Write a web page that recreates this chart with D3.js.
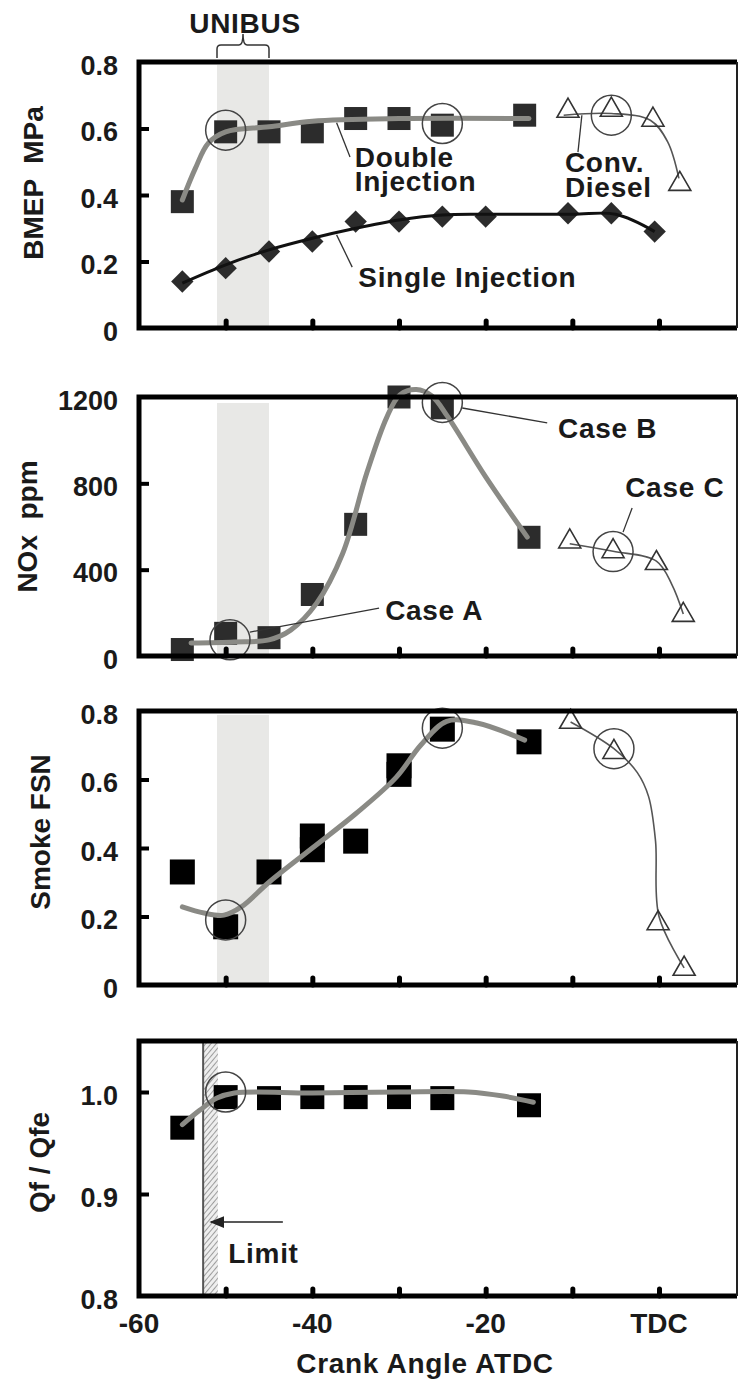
<!DOCTYPE html>
<html>
<head>
<meta charset="utf-8">
<script src="https://cdn.jsdelivr.net/npm/d3@7"></script>
<style>
  body { margin: 0; background: #fff; }
  text { font-family: "Liberation Sans", Arial, sans-serif; font-weight: bold; font-size: 28px; fill: #1a1a1a; white-space: pre; }
  .tick text { font-size: 27px; }
  .note { letter-spacing: 0.7px; }
</style>
</head>
<body>
<script>
// ---- data (crank angle ATDC, value) ----
const xTicks = [-50, -40, -30, -20, -10, 0];
const xTickLabels = [[-60, "-60"], [-40, "-40"], [-20, "-20"], [0, "TDC"]];
const unibusBand = [-51, -45];
const limitBand = [-52.6, -50.9];

const bmepTickLabels = ["0", "0.2", "0.4", "0.6", "0.8"];
const bmepDouble = [[-55, 0.38], [-50, 0.59], [-45, 0.59], [-40, 0.59], [-35, 0.63], [-30, 0.63], [-25, 0.61], [-15.5, 0.64]];
const bmepDoubleFit = [[-55, 0.385], [-53.5, 0.48], [-52, 0.556], [-50, 0.59], [-45, 0.605], [-40, 0.622], [-30, 0.63], [-15, 0.63]];
const bmepSingle = [[-55, 0.14], [-50, 0.18], [-45, 0.23], [-40, 0.26], [-35, 0.32], [-30, 0.32], [-25, 0.335], [-20, 0.335], [-10.5, 0.345], [-5.5, 0.345], [-0.5, 0.29]];
const bmepSingleFit = [[-55, 0.135], [-50, 0.19], [-45, 0.235], [-40, 0.27], [-35, 0.3], [-30, 0.325], [-25, 0.34], [-20, 0.342], [-10, 0.342], [-5, 0.342], [-0.5, 0.29]];
const bmepConv = [[-10.5, 0.653], [-5.5, 0.656], [-0.7, 0.626], [2.4, 0.433]];
const bmepConvFit = [[-11, 0.64], [-5.5, 0.645], [-1, 0.625], [1, 0.56], [2.3, 0.45]];
const bmepCircles = [[-50, 0.595], [-25, 0.615], [-5.5, 0.64]];

const noxTickLabels = ["0", "400", "800", "1200"];
const noxDouble = [[-55, 30], [-50, 105], [-45, 85], [-40, 285], [-35, 610], [-30, 1200], [-25, 1150], [-15, 550]];
const noxDoubleFit = [[-54, 60], [-49, 65], [-45, 75], [-42.5, 120], [-39.5, 245], [-36.5, 475], [-33.7, 850], [-31.4, 1107], [-29.9, 1210], [-28, 1235], [-26.2, 1205], [-24.4, 1110], [-20, 830], [-15.2, 551]];
const noxConv = [[-10.3, 530], [-5.3, 485], [-0.3, 430], [2.8, 190]];
const noxConvFit = [[-10.3, 520], [-5.3, 485], [-0.3, 440], [1.5, 330], [2.8, 195]];
const noxCircles = [[-49.5, 75], [-25, 1175], [-5.3, 484]];

const smokeTickLabels = ["0", "0.2", "0.4", "0.6", "0.8"];
const smokeDouble = [[-55, 0.33], [-50, 0.17], [-45, 0.33], [-40, 0.435], [-40, 0.395], [-35, 0.42], [-30, 0.64], [-30, 0.615], [-25, 0.747], [-15, 0.71]];
const smokeDoubleFit = [[-55, 0.228], [-52.5, 0.21], [-50.2, 0.204], [-48.2, 0.228], [-45, 0.3], [-40, 0.4], [-35, 0.5], [-30.3, 0.607], [-27.5, 0.7], [-24.5, 0.77], [-21, 0.765], [-15.5, 0.715]];
const smokeConv = [[-10.2, 0.768], [-5.2, 0.68], [-0.1, 0.18], [2.9, 0.047]];
const smokeConvFit = [[-10.2, 0.768], [-5.2, 0.69], [-2.5, 0.62], [-1.2, 0.55], [-0.4, 0.42], [0, 0.2], [2.9, 0.05]];
const smokeCircles = [[-50, 0.19], [-25, 0.75], [-5.2, 0.69]];

const qfTickLabels = ["0.8", "0.9", "1.0"];
const qfDouble = [[-55, 0.965], [-50, 0.995], [-45, 0.994], [-40, 0.995], [-35, 0.995], [-30, 0.995], [-25, 0.994], [-15, 0.987]];
const qfDoubleFit = [[-55, 0.968], [-53, 0.982], [-51, 0.994], [-49, 0.999], [-40, 0.999], [-30, 1.0], [-22, 1.0], [-18, 0.996], [-14.5, 0.99]];
const qfCircles = [[-50, 1.0]];

// ---- layout ----
const width = 740, height = 1385;
const svg = d3.select("body").append("svg").attr("width", width).attr("height", height);

const defs = svg.append("defs");
const hatch = defs.append("pattern").attr("id", "hatch").attr("patternUnits", "userSpaceOnUse")
  .attr("width", 4).attr("height", 4).attr("patternTransform", "rotate(40)");
hatch.append("rect").attr("width", 4).attr("height", 4).attr("fill", "#eeeeee");
hatch.append("line").attr("x1", 0).attr("y1", 0).attr("x2", 0).attr("y2", 4).attr("stroke", "#7a7a7a").attr("stroke-width", 1.4);

const x = d3.scaleLinear().domain([-60, 9]).range([139, 737]);
const left = x(-60), right = x(9);

const gray = "#8a8a85", dark = "#2c2c2c";
const fitLine = d3.line().curve(d3.curveCatmullRom.alpha(0.5));

function panel(p) {
  const y = d3.scaleLinear().domain(p.domain).range(p.range);
  const g = svg.append("g");
  const [bot, top] = p.range;
  const pt = d => [x(d[0]), y(d[1])];

  if (p.band) {
    g.append("rect")
      .attr("x", x(p.band[0])).attr("width", x(p.band[1]) - x(p.band[0]))
      .attr("y", top + p.bandInset).attr("height", bot - top - p.bandInset)
      .attr("fill", "#e8e8e6");
  }
  if (p.limit) {
    g.append("rect")
      .attr("x", x(p.limit[0])).attr("width", x(p.limit[1]) - x(p.limit[0]))
      .attr("y", top).attr("height", bot - top)
      .attr("fill", "url(#hatch)");
    g.append("line").attr("x1", x(p.limit[0])).attr("x2", x(p.limit[0]))
      .attr("y1", top).attr("y2", bot).attr("stroke", "#555").attr("stroke-width", 2);
  }

  // square markers
  g.selectAll(".sq").data(p.squares).join("rect")
    .attr("x", d => x(d[0]) - p.sq / 2).attr("y", d => y(d[1]) - p.sq / 2)
    .attr("width", p.sq).attr("height", p.sq).attr("fill", p.sqColor);

  if (p.diamonds) {
    g.selectAll(".dm").data(p.diamonds).join("path")
      .attr("d", d3.symbol(d3.symbolSquare, 250))
      .attr("transform", d => `translate(${pt(d)}) rotate(45)`)
      .attr("fill", dark);
  }

  if (p.singleFit) {
    g.append("path").attr("d", fitLine(p.singleFit.map(pt)))
      .attr("fill", "none").attr("stroke", "#111").attr("stroke-width", 3);
  }

  g.append("path").attr("d", fitLine(p.fit.map(pt)))
    .attr("fill", "none").attr("stroke", gray).attr("stroke-width", 5).attr("stroke-linecap", "round");

  if (p.conv) {
    g.append("path").attr("d", fitLine(p.convFit.map(pt)))
      .attr("fill", "none").attr("stroke", "#555").attr("stroke-width", 1.6);
    g.selectAll(".tri").data(p.conv).join("path")
      .attr("d", d3.symbol(d3.symbolTriangle, 210))
      .attr("transform", d => `translate(${pt(d)})`)
      .attr("fill", "none").attr("stroke", "#333").attr("stroke-width", 1.6);
  }

  g.selectAll(".circ").data(p.circles).join("circle")
    .attr("cx", d => x(d[0])).attr("cy", d => y(d[1])).attr("r", 20)
    .attr("fill", "none").attr("stroke", "#444").attr("stroke-width", 1.5);

  // frame
  g.append("path").attr("d", `M${right},${top}H${left}V${bot}H${right}`)
    .attr("fill", "none").attr("stroke", "#000").attr("stroke-width", 5);
  g.append("line").attr("x1", right).attr("x2", right).attr("y1", top).attr("y2", bot)
    .attr("stroke", "#222").attr("stroke-width", 2);

  // inner ticks
  g.append("g").attr("transform", `translate(${left},0)`)
    .call(d3.axisRight(y).tickValues(p.inner).tickSize(10).tickFormat(""))
    .call(a => a.select(".domain").remove())
    .selectAll("line").attr("stroke", "#000").attr("stroke-width", 4);
  g.append("g").attr("transform", `translate(0,${bot})`)
    .call(d3.axisTop(x).tickValues(xTicks).tickSize(7).tickFormat(""))
    .call(a => a.select(".domain").remove())
    .selectAll("line").attr("stroke", "#000").attr("stroke-width", 5).attr("stroke-linecap", "round");

  // tick labels
  const vals = p.labels.map(Number);
  g.append("g").attr("transform", `translate(${left},0)`)
    .call(d3.axisLeft(y).tickValues(vals).tickFormat((d, i) => p.labels[i]).tickSize(0).tickPadding(21))
    .call(a => a.select(".domain").remove())
    .selectAll("text").attr("dy", "0.45em");

  // axis title
  g.append("text")
    .attr("transform", `translate(${p.titleX},${(top + bot) / 2 + p.titleDy}) rotate(-90)`)
    .attr("text-anchor", "middle").text(p.title);

  return { g, y };
}

// multi-line note: one text, one tspan per line
function note(pn, xv, yv, lines, lineGap) {
  const t = pn.g.append("text").attr("class", "note").attr("x", x(xv)).attr("y", pn.y(yv));
  lines.forEach((s, i) => {
    t.append("tspan").attr("x", x(xv)).attr("dy", i ? lineGap : 0).text(s);
  });
}
function leader(pn, a, b) {
  pn.g.append("line").attr("x1", x(a[0])).attr("y1", pn.y(a[1]))
    .attr("x2", x(b[0])).attr("y2", pn.y(b[1]))
    .attr("stroke", "#333").attr("stroke-width", 1.3);
}

// ---- panel 1: BMEP ----
const p1 = panel({
  domain: [0, 0.8], range: [328, 62], labels: bmepTickLabels, inner: [0.2, 0.4, 0.6],
  title: "BMEP  MPa", titleX: 43, titleDy: -12,
  band: unibusBand, bandInset: 3,
  squares: bmepDouble, sq: 23, sqColor: dark, fit: bmepDoubleFit,
  diamonds: bmepSingle, singleFit: bmepSingleFit,
  conv: bmepConv, convFit: bmepConvFit, circles: bmepCircles
});
note(p1, -35.1, 0.484, ["Double", "Injection"], 24);
note(p1, -10.85, 0.469, ["Conv.", "Diesel"], 25);
note(p1, -34.7, 0.123, ["Single Injection"]);
leader(p1, [-37.2, 0.617], [-35.65, 0.514]);
leader(p1, [-37.2, 0.28], [-35.4, 0.183]);
leader(p1, [-8.9, 0.64], [-9.35, 0.529]);

// UNIBUS brace
const bx1 = x(unibusBand[0]), bx2 = x(unibusBand[1]), bc = (bx1 + bx2) / 2;
svg.append("path")
  .attr("d", `M${bx1},58V49Q${bx1},45 ${bx1 + 4},45H${bc - 4}Q${bc},45 ${bc},34Q${bc},45 ${bc + 4},45H${bx2 - 4}Q${bx2},45 ${bx2},49V58`)
  .attr("fill", "none").attr("stroke", "#333").attr("stroke-width", 1.5);
svg.append("text").attr("class", "note").attr("x", bc + 2).attr("y", 33).attr("text-anchor", "middle").text("UNIBUS");

// ---- panel 2: NOx ----
const p2 = panel({
  domain: [0, 1200], range: [656, 397], labels: noxTickLabels, inner: [400, 800],
  title: "NOx  ppm", titleX: 37, titleDy: 0,
  band: unibusBand, bandInset: 6,
  squares: noxDouble, sq: 23, sqColor: dark, fit: noxDoubleFit,
  conv: noxConv, convFit: noxConvFit, circles: noxCircles
});
note(p2, -31.6, 167, ["Case A"]);
note(p2, -11.65, 1010, ["Case B"]);
note(p2, -3.9, 737, ["Case C"]);
leader(p2, [-47.2, 111], [-32.3, 222]);
leader(p2, [-22.7, 1149], [-12.9, 1080]);
leader(p2, [-3.1, 686], [-4.15, 574]);

// ---- panel 3: Smoke ----
panel({
  domain: [0, 0.8], range: [985, 711], labels: smokeTickLabels, inner: [0.2, 0.4, 0.6],
  title: "Smoke FSN", titleX: 50, titleDy: -16,
  band: unibusBand, bandInset: 4,
  squares: smokeDouble, sq: 25, sqColor: "#000", fit: smokeDoubleFit,
  conv: smokeConv, convFit: smokeConvFit, circles: smokeCircles
});

// ---- panel 4: Qf/Qfe ----
const p4 = panel({
  domain: [0.8, 1.05], range: [1296, 1041], labels: qfTickLabels, inner: [0.9, 1.0],
  title: "Qf / Qfe", titleX: 49, titleDy: -6,
  limit: limitBand,
  squares: qfDouble, sq: 24, sqColor: "#000", fit: qfDoubleFit, circles: qfCircles
});
note(p4, -49.7, 0.832, ["Limit"]);
defs.append("marker").attr("id", "arrow").attr("viewBox", "0 0 10 10").attr("refX", 9).attr("refY", 5)
  .attr("markerWidth", 10).attr("markerHeight", 10).attr("orient", "auto")
  .append("path").attr("d", "M0,1L10,5L0,9Z").attr("fill", "#222");
p4.g.append("line").attr("x1", x(-43.4)).attr("x2", x(-51.7))
  .attr("y1", p4.y(0.8725)).attr("y2", p4.y(0.8725))
  .attr("stroke", "#222").attr("stroke-width", 1.5).attr("marker-end", "url(#arrow)");

// bottom axis labels
svg.append("g").selectAll("text").data(xTickLabels).join("text")
  .attr("x", d => x(d[0])).attr("y", 1333).attr("text-anchor", "middle").text(d => d[1]);
svg.append("text").attr("class", "note").attr("x", x(-27)).attr("y", 1373).attr("text-anchor", "middle").text("Crank Angle ATDC");
</script>
</body>
</html>
